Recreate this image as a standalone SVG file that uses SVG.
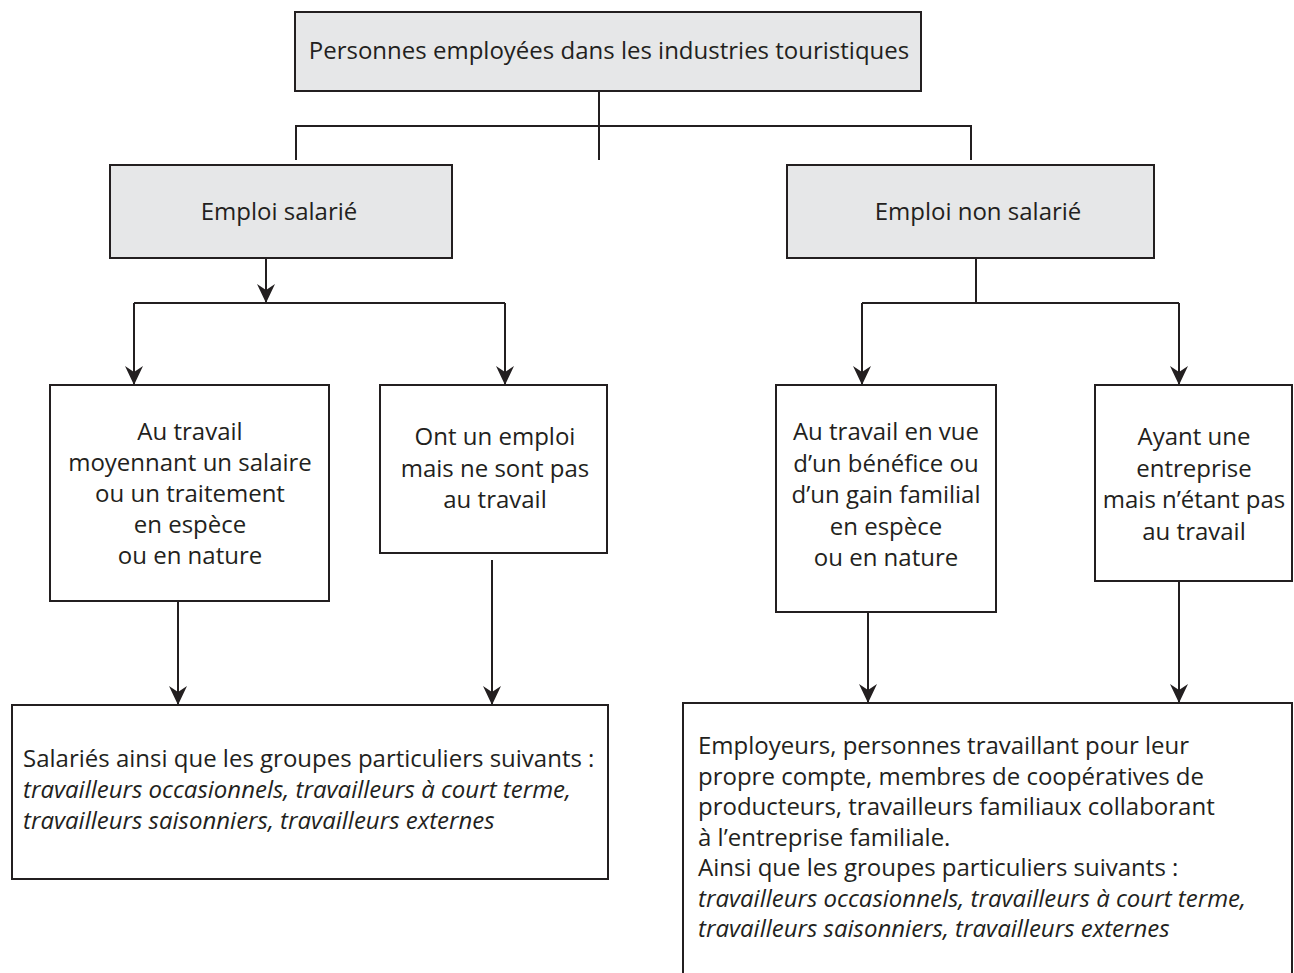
<svg xmlns="http://www.w3.org/2000/svg" width="1294" height="973" viewBox="0 0 1294 973">
<style>
.box{fill:#fff;stroke:#231f20;stroke-width:2}
.gray{fill:#e6e7e8;stroke:#231f20;stroke-width:2}
.ln{fill:none;stroke:#231f20;stroke-width:2}
text{font-family:"Open Sans","Noto Sans",sans-serif;font-size:24px;fill:#231f20}
.c{text-anchor:middle}
.i{font-style:italic}
</style>
<defs>
<marker id="ah" markerUnits="userSpaceOnUse" markerWidth="22" markerHeight="22" viewBox="-20 -11 22 22" refX="0" refY="0" orient="auto" overflow="visible">
<path d="M0,0 L-19,-9 L-13,0 L-19,9 Z" fill="#231f20"/>
</marker>
</defs>
<rect width="1294" height="973" fill="#fff"/>
<g id="connectors">
<path class="ln" d="M599,91 V160 M296,160 V126 H971 V160"/>
<path class="ln" d="M266,258 V303" marker-end="url(#ah)"/>
<path class="ln" d="M134,303 H505"/>
<path class="ln" d="M134,303 V385" marker-end="url(#ah)"/>
<path class="ln" d="M505,303 V385" marker-end="url(#ah)"/>
<path class="ln" d="M976,258 V303 M862,303 H1179"/>
<path class="ln" d="M862,303 V385" marker-end="url(#ah)"/>
<path class="ln" d="M1179,303 V385" marker-end="url(#ah)"/>
<path class="ln" d="M178,601 V705" marker-end="url(#ah)"/>
<path class="ln" d="M492,560 V705" marker-end="url(#ah)"/>
<path class="ln" d="M868,612 V703" marker-end="url(#ah)"/>
<path class="ln" d="M1179,581 V703" marker-end="url(#ah)"/>
</g>
<g id="n-top">
<rect class="gray" x="295" y="12" width="626" height="79"/>
<text class="c" x="609" y="59">Personnes employées dans les industries touristiques</text>
</g>
<g id="n-salarie">
<rect class="gray" x="110" y="165" width="342" height="93"/>
<text class="c" x="279" y="220">Emploi salarié</text>
</g>
<g id="n-nonsalarie">
<rect class="gray" x="787" y="165" width="367" height="93"/>
<text class="c" x="978" y="220">Emploi non salarié</text>
</g>
<g id="n-a">
<rect class="box" x="50" y="385" width="279" height="216"/>
<text class="c" x="190" y="440">Au travail</text>
<text class="c" x="190" y="471">moyennant un salaire</text>
<text class="c" x="190" y="502">ou un traitement</text>
<text class="c" x="190" y="533">en espèce</text>
<text class="c" x="190" y="564">ou en nature</text>
</g>
<g id="n-b">
<rect class="box" x="380" y="385" width="227" height="168"/>
<text class="c" x="495" y="445">Ont un emploi</text>
<text class="c" x="495" y="476.5">mais ne sont pas</text>
<text class="c" x="495" y="508">au travail</text>
</g>
<g id="n-c">
<rect class="box" x="776" y="385" width="220" height="227"/>
<text class="c" x="886" y="440">Au travail en vue</text>
<text class="c" x="886" y="471.5">d’un bénéfice ou</text>
<text class="c" x="886" y="503">d’un gain familial</text>
<text class="c" x="886" y="534.5">en espèce</text>
<text class="c" x="886" y="566">ou en nature</text>
</g>
<g id="n-d">
<rect class="box" x="1095" y="385" width="197" height="196"/>
<text class="c" x="1194" y="445">Ayant une</text>
<text class="c" x="1194" y="476.5">entreprise</text>
<text class="c" x="1194" y="508">mais n’étant pas</text>
<text class="c" x="1194" y="539.5">au travail</text>
</g>
<g id="n-e">
<rect class="box" x="12" y="705" width="596" height="174"/>
<text x="23" y="767">Salariés ainsi que les groupes particuliers suivants :</text>
<text class="i" x="23" y="798">travailleurs occasionnels, travailleurs à court terme,</text>
<text class="i" x="23" y="829">travailleurs saisonniers, travailleurs externes</text>
</g>
<g id="n-f">
<path class="box" d="M683,974 V703 H1292 V974"/>
<text x="698" y="754">Employeurs, personnes travaillant pour leur</text>
<text x="698" y="784.5">propre compte, membres de coopératives de</text>
<text x="698" y="815">producteurs, travailleurs familiaux collaborant</text>
<text x="698" y="845.5">à l’entreprise familiale.</text>
<text x="698" y="876">Ainsi que les groupes particuliers suivants :</text>
<text class="i" x="698" y="906.5">travailleurs occasionnels, travailleurs à court terme,</text>
<text class="i" x="698" y="937">travailleurs saisonniers, travailleurs externes</text>
</g>
</svg>
